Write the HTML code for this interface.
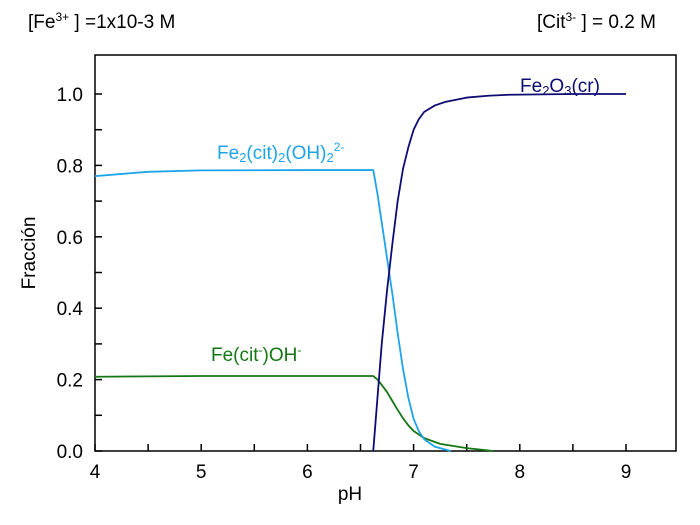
<!DOCTYPE html>
<html><head><meta charset="utf-8"><style>
body{margin:0;background:#fff}
svg{font-family:"Liberation Sans",Arial,sans-serif}
</style></head><body>
<svg width="700" height="520" viewBox="0 0 700 520">
<text x="28" y="28" font-size="19">[Fe<tspan font-size="12" dy="-7">3+</tspan><tspan dy="7"> ] =1x10-3  M</tspan></text>
<text x="537" y="28" font-size="19">[Cit<tspan font-size="12" dy="-7">3-</tspan><tspan dy="7"> ] = 0.2 M</tspan></text>
<rect x="95" y="55" width="581" height="396" fill="none" stroke="#000" stroke-width="1.5"/>
<g id="axes"></g>
<g id="series"></g>
<text x="350" y="500" font-size="19" text-anchor="middle">pH</text>
<text transform="translate(35,253) rotate(-90)" font-size="19" text-anchor="middle">Fracción</text>
<text x="520" y="92" font-size="19" fill="#0c0c74">Fe<tspan font-size="13" dy="3">2</tspan><tspan dy="-3">O</tspan><tspan font-size="13" dy="3">3</tspan><tspan dy="-3">(cr)</tspan></text>
<text x="217" y="159" font-size="19" fill="#1ea4ea">Fe<tspan font-size="13" dy="3">2</tspan><tspan dy="-3">(cit)</tspan><tspan font-size="13" dy="3">2</tspan><tspan dy="-3">(OH)</tspan><tspan font-size="13" dy="3">2</tspan><tspan font-size="12" dy="-11">2-</tspan></text>
<text x="211" y="361" font-size="19" fill="#137813">Fe(cit<tspan font-size="12" dy="-7">-</tspan><tspan dy="7">)OH</tspan><tspan font-size="12" dy="-7">-</tspan></text>
</svg>
<script>
const xTicks=[4,5,6,7,8,9];
const yTicks=[0,0.2,0.4,0.6,0.8,1.0];
const phA=[4,4.5,5,6,6.62,6.66,6.7,6.75,6.8,6.85,6.9,6.95,7.0,7.05,7.1,7.2,7.35];
const fracA=[0.77,0.782,0.786,0.787,0.787,0.72,0.64,0.54,0.44,0.33,0.23,0.15,0.09,0.055,0.033,0.012,0];
const phB=[4,5,6,6.62,6.66,6.7,6.75,6.8,6.85,6.9,6.95,7.0,7.1,7.25,7.5,7.75];
const fracB=[0.208,0.21,0.21,0.21,0.2,0.185,0.165,0.14,0.115,0.092,0.072,0.056,0.036,0.02,0.008,0];
const phC=[6.62,6.66,6.7,6.75,6.8,6.85,6.9,6.95,7.0,7.05,7.1,7.2,7.3,7.5,7.7,7.9,8.5,9];
const fracC=[0,0.15,0.3,0.45,0.58,0.7,0.79,0.85,0.9,0.93,0.95,0.968,0.978,0.99,0.995,0.998,1.0,1.0];
const NS='http://www.w3.org/2000/svg';
const X=v=>95+(v-4)*106.2, Y=v=>451-v*357;
const axes=document.getElementById('axes'), ser=document.getElementById('series');
function mk(tag,attrs,parent,txt){const e=document.createElementNS(NS,tag);for(const k in attrs)e.setAttribute(k,attrs[k]);if(txt!==undefined)e.textContent=txt;parent.appendChild(e);return e;}
for(let v=4;v<=9.01;v+=0.5){const t=mk('line',{x1:X(v),x2:X(v),y1:451,y2:444,stroke:'#000','stroke-width':1.5},axes);

}
xTicks.forEach(v=>{const t=mk('text',{x:X(v),y:478,'font-size':19,'text-anchor':'middle'},axes,String(v));

});
for(let v=0;v<=1.01;v+=0.1){const t=mk('line',{x1:95,x2:102,y1:Y(v),y2:Y(v),stroke:'#000','stroke-width':1.5},axes);

}
yTicks.forEach(v=>{const t=mk('text',{x:83,y:Y(v)+7,'font-size':19,'text-anchor':'end'},axes,v.toFixed(1));

});
function line(xs,ys,color,name){const p=mk('polyline',{points:xs.map((x,i)=>X(x)+','+Y(ys[i])).join(' '),fill:'none',stroke:color,'stroke-width':1.8,'stroke-linejoin':'round'},ser);

}
line(phB,fracB,'#137813','series-fecitoh');
line(phA,fracA,'#1ea4ea','series-fe2cit2oh2');
line(phC,fracC,'#0c0c74','series-fe2o3');
</script>
</body></html>
